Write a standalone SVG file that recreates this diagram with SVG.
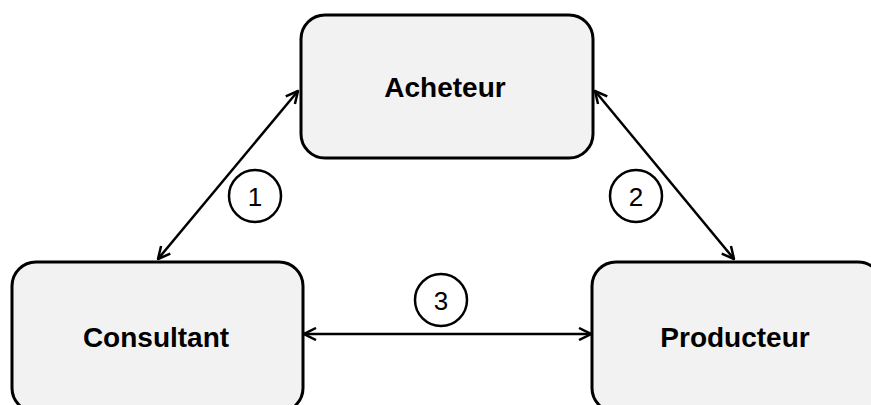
<svg xmlns="http://www.w3.org/2000/svg" width="871" height="405" viewBox="0 0 871 405">
<style>
.box{fill:#f2f2f2;stroke:#000;stroke-width:3}
.lbl{font-family:"Liberation Sans",Arial,sans-serif;font-weight:bold;font-size:28px;fill:#000;text-anchor:middle}
.num{font-family:"Liberation Sans",Arial,sans-serif;font-size:26px;fill:#000;text-anchor:middle}
.circ{fill:#fff;stroke:#000;stroke-width:2.5}
.conn{stroke:#000;stroke-width:2.5;fill:none;marker-start:url(#ah);marker-end:url(#ah)}
</style>
<defs>
<marker id="ah" viewBox="0 0 14 14" markerWidth="14" markerHeight="14" refX="13" refY="7" orient="auto-start-reverse" markerUnits="userSpaceOnUse">
<path d="M1,1 L13,7 L1,13" fill="none" stroke="#000" stroke-width="2.5" stroke-linejoin="miter"/>
</marker>
</defs>
<rect width="871" height="405" fill="#fff"/>
<g id="connectors">
<line class="conn" x1="158" y1="259" x2="298" y2="91"/>
<line class="conn" x1="595" y1="91" x2="734" y2="259"/>
<line class="conn" x1="304" y1="334" x2="591" y2="334"/>
</g>
<g id="acheteur">
<rect class="box" x="301" y="15" width="292" height="143" rx="24"/>
<text class="lbl" x="445" y="97">Acheteur</text>
</g>
<g id="consultant">
<rect class="box" x="12" y="262" width="291" height="150" rx="24"/>
<text class="lbl" x="156" y="347">Consultant</text>
</g>
<g id="producteur">
<rect class="box" x="592" y="262" width="290" height="150" rx="24"/>
<text class="lbl" x="735" y="347">Producteur</text>
</g>
<g id="label1">
<circle class="circ" cx="255" cy="196" r="26"/>
<text class="num" x="255" y="206">1</text>
</g>
<g id="label2">
<circle class="circ" cx="636" cy="196" r="26"/>
<text class="num" x="636" y="206">2</text>
</g>
<g id="label3">
<circle class="circ" cx="441" cy="300" r="26"/>
<text class="num" x="441" y="310">3</text>
</g>
</svg>
